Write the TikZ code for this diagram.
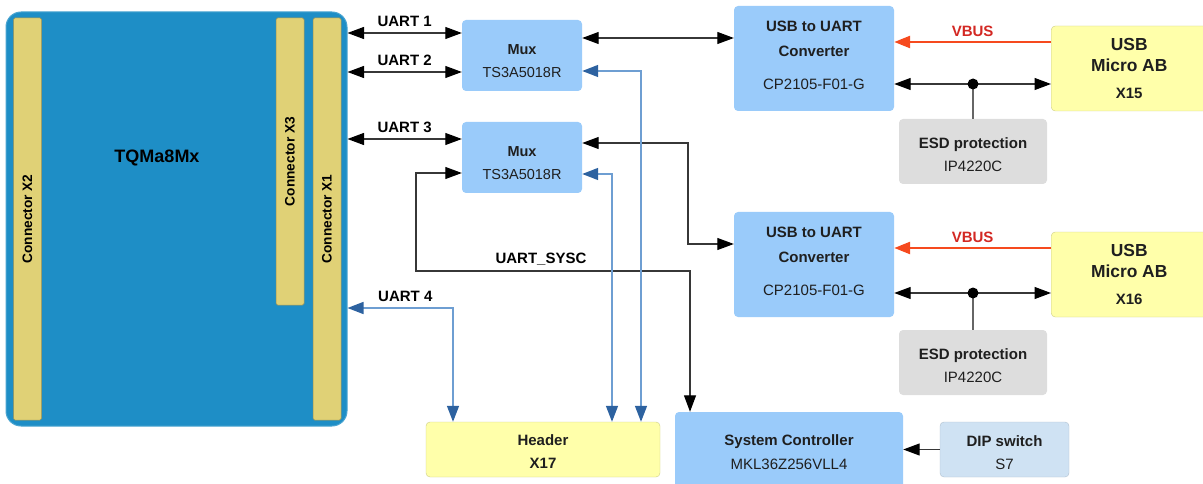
\documentclass[tikz,border=0pt]{standalone}
\usepackage{fontspec}
\setmainfont{Liberation Sans}
\usetikzlibrary{arrows.meta,calc}
\definecolor{board}{RGB}{30,142,198}
\definecolor{pins}{RGB}{224,209,118}
\definecolor{chip}{RGB}{154,203,250}
\definecolor{plug}{RGB}{255,255,170}
\definecolor{esdgray}{RGB}{221,221,221}
\definecolor{dipblue}{RGB}{207,226,243}
\definecolor{wire}{RGB}{55,55,55}
\definecolor{bwire}{RGB}{110,158,210}
\definecolor{btip}{RGB}{45,98,160}
\definecolor{vbus}{RGB}{246,74,30}
\definecolor{vbustxt}{RGB}{211,40,35}
\newcommand\toppad[1]{\rule{0pt}{#1}}
\newcommand\lowpad[1]{\rule[-#1]{0pt}{#1}}
\tikzset{
  every picture/.style={font=\fontsize{15}{18}\selectfont},
  blk/.style={fill=chip,rounded corners=4pt,inner sep=0pt,align=center,text=black!88},
  plugblk/.style={blk,fill=plug,draw=plug!80!black,line width=0.4pt},
  pinrow/.style={fill=pins,draw=pins!70!black,line width=0.5pt,rounded corners=1.5pt,inner sep=0pt},
  lbl/.style={font=\fontsize{15}{18}\selectfont\bfseries,inner sep=3pt},
  twoway/.style={draw=wire,line width=1.2pt,{Triangle[length=16.5pt,width=12pt,black]}-{Triangle[length=16.5pt,width=12pt,black]}},
  oneway/.style={draw=wire,line width=1.2pt,-{Triangle[length=16.5pt,width=12pt,black]}},
  bluetwo/.style={draw=bwire,line width=1.5pt,{Triangle[length=16pt,width=12pt,btip]}-{Triangle[length=16pt,width=12pt,btip]}},
  vbusline/.style={draw=vbus,line width=2.5pt,-{Triangle[length=16pt,width=12pt]}},
  stub/.style={draw=black!60,line width=1.5pt},
}

\begin{document}
\begin{tikzpicture}[x=1pt,y=-1pt]
  \useasboundingbox (0,0) rectangle (1203,484);
  \node[fill=board,draw=board!80!white,line width=1pt,rounded corners=15pt,
    minimum width=341pt,minimum height=414pt,inner sep=0pt] (tqm) at (176.5,219) {};
  \node[font=\fontsize{18}{20}\selectfont\bfseries] (tqmname) at (157,158) {TQMa8Mx};
  \foreach \n/\x/\y/\h in {X2/27.5/219/402,X3/290/161.5/287,X1/327/219/402}
    \node[pinrow,minimum width=28pt,minimum height=\h pt] (con\n) at (\x,\y)
      {\rotatebox{90}{\fontsize{13.7}{15}\selectfont\bfseries Connector \n}};
  \foreach \n/\y in {1/55.5,2/157.5}
    \node[blk,minimum width=120pt,minimum height=71pt,font=\fontsize{14.5}{18}\selectfont]
      (mux\n) at (522,\y) {\toppad{21pt}\textbf{Mux}\\[5pt]TS3A5018R};
  \foreach \n/\y/\e/\d/\s in {1/0/0/0/X15,2/206/211/209/X16}{
    \node[blk,minimum width=160pt,minimum height=105pt] (conv\n) at (814,58.5+\y)
      {\textbf{USB to UART}\\[7pt]\textbf{Converter}\\[15pt]CP2105-F01-G\lowpad{7pt}};
    \node[plugblk,minimum width=156pt,minimum height=85pt,anchor=west,
      font=\fontsize{17.4}{21}\selectfont\bfseries] (usb\n) at (1051,68.5+\y)
      {USB\\Micro AB\\[6pt]{\fontsize{15}{21}\selectfont\s}};
    \node[blk,fill=esdgray,minimum width=148pt,minimum height=65pt] (esd\n) at (973,151.5+\e)
      {\toppad{17pt}\textbf{ESD protection}\\[5pt]IP4220C};
    \coordinate (v\n) at (973,42+\y);
    \coordinate (j\n) at (973,84+\d);
    \draw[vbusline] (usb\n.west |- v\n) -- node[lbl,above=1pt,text=vbustxt] {VBUS} (conv\n.east |- v\n);
    \draw[twoway] (conv\n.east |- j\n) -- (usb\n.west |- j\n);
    \draw[stub] (j\n) -- (esd\n.north);
    \fill (j\n) circle (5.5);
  }
  \node[plugblk,minimum width=234pt,minimum height=55pt] (header) at (543,449.5)
    {\toppad{15pt}\textbf{Header}\\[5pt]\textbf{X17}};
  \node[blk,minimum width=228pt,minimum height=80pt] (sysc) at (789,452)
    {\textbf{System Controller}\\[6pt]MKL36Z256VLL4};
  \node[blk,fill=dipblue,draw=dipblue!85!black,line width=0.4pt,minimum width=129pt,
    minimum height=55pt] (dip) at (1004.5,449.5) {\toppad{17pt}\textbf{DIP switch}\\[5pt]S7};
  \foreach \n/\y/\m in {1/33/1,2/72/1,3/139/2}
    \draw[twoway] (tqm.east |- 0,\y) -- node[lbl,above=2.5pt] {UART \n} (mux\m.west |- 0,\y);
  \draw[twoway] (mux1.east |- 0,38) -- (conv1.west |- 0,38);
  \draw[twoway] (mux2.east |- 0,143) -| (688,244) -- (conv2.west |- 0,244);
  \draw[twoway] (mux2.west |- 0,173) -| (416,271)
    -- node[lbl,above=2.5pt,pos=0.456] {UART\_SYSC} (690,271) -- (sysc.north -| 690,0);
  \draw[bluetwo] (mux1.east |- 0,71) -| (header.north -| 641,0);
  \draw[bluetwo] (mux2.east |- 0,174) -| (header.north -| 612,0);
  \draw[bluetwo] (tqm.east |- 0,308) -| node[lbl,above=2.5pt,pos=0.274] {UART 4} (header.north -| 453,0);
  \draw[oneway] (dip.west) -- (sysc.east |- dip.west);
\end{tikzpicture}
\end{document}
